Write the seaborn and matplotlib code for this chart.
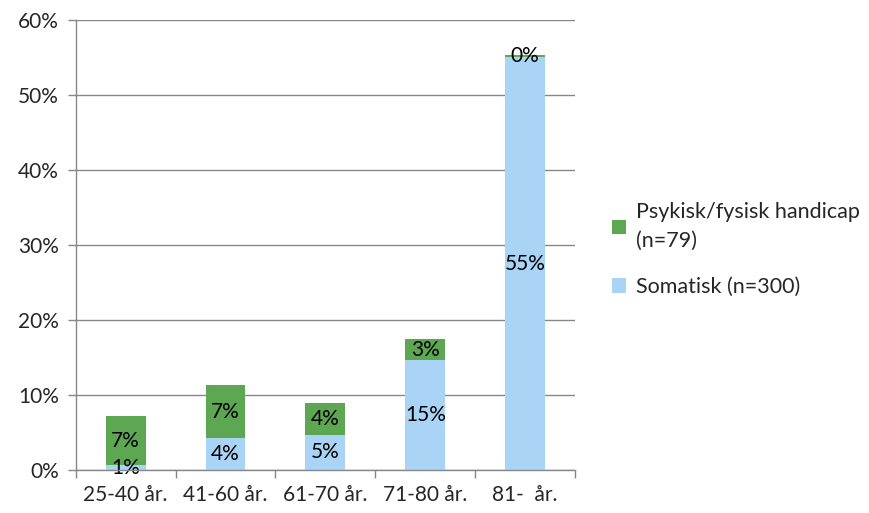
import numpy as np
import pandas as pd
import matplotlib
matplotlib.use("Agg")
import matplotlib.pyplot as plt
import seaborn as sns

# data (percent)
age_groups = ["25-40 år.", "41-60 år.", "61-70 år.", "71-80 år.", "81-  år."]
somatisk = [0.6, 4.2, 4.7, 14.7, 55.0]
psykisk = [6.55, 7.1, 4.2, 2.7, 0.3]

label_psyk = "Psykisk/fysisk handicap\n(n=79)"
label_som = "Somatisk (n=300)"

green = "#5DA753"
blue = "#A9D4F5"
grid_col = "#878787"
fs = 15

sns.set_theme(style="white")
plt.rcParams["font.family"] = ["Lato", "DejaVu Sans"]

df = pd.DataFrame({"age": age_groups, "som": somatisk, "psyk": psykisk})

fig = plt.figure(figsize=(8.7, 5.13), dpi=100)
ax = fig.add_axes([0.087, 0.084, 0.574, 0.877])

sns.barplot(data=df, x="age", y="som", color=blue, width=0.4, linewidth=0,
            saturation=1, ax=ax, label=label_som, zorder=3)
sns.barplot(data=df, x="age", y="psyk", bottom=df["som"], color=green, width=0.4,
            linewidth=0, saturation=1, ax=ax, label=label_psyk, zorder=3)

# value labels centred in each segment
for i, (s, p) in enumerate(zip(somatisk, psykisk)):
    ax.text(i, s / 2, f"{s:.0f}%", ha="center", va="center", fontsize=fs, color="black", zorder=4)
    ax.text(i, s + p / 2, f"{p:.0f}%", ha="center", va="center", fontsize=fs, color="black", zorder=4)

ax.set_ylim(0, 60)
ax.set_xlim(-0.5, 4.5)
ax.set_yticks(np.arange(0, 61, 10))
ax.set_yticklabels([f"{v}%" for v in range(0, 61, 10)], fontsize=fs)
ax.set_xticks(range(len(age_groups)))
ax.set_xticklabels(age_groups, fontsize=fs)
ax.set_xticks(np.arange(-0.5, 5, 1), minor=True)
ax.tick_params(axis="x", which="major", length=0, pad=11)
ax.tick_params(axis="x", which="minor", length=6, width=1, color=grid_col, direction="out", bottom=True)
ax.tick_params(axis="y", which="major", length=6, width=1, color=grid_col, direction="out", left=True, pad=6)
ax.set_xlabel("")
ax.set_ylabel("")

ax.yaxis.grid(True, color=grid_col, linewidth=1)
ax.set_axisbelow(True)
for side in ["top", "right"]:
    ax.spines[side].set_visible(False)
for side in ["left", "bottom"]:
    ax.spines[side].set_color(grid_col)
    ax.spines[side].set_linewidth(1)
    ax.spines[side].set_zorder(5)

handles, labels = ax.get_legend_handles_labels()
handles = handles[::-1]
labels = labels[::-1]
leg = ax.legend(handles, labels, loc="center left", bbox_to_anchor=(1.035, 0.49),
                frameon=False, fontsize=15.5, handlelength=0.65, handleheight=0.65,
                handletextpad=0.45, labelspacing=1.2)
for t in leg.get_texts():
    t.set_linespacing(1.6)

fig.savefig("out.png", dpi=100)
